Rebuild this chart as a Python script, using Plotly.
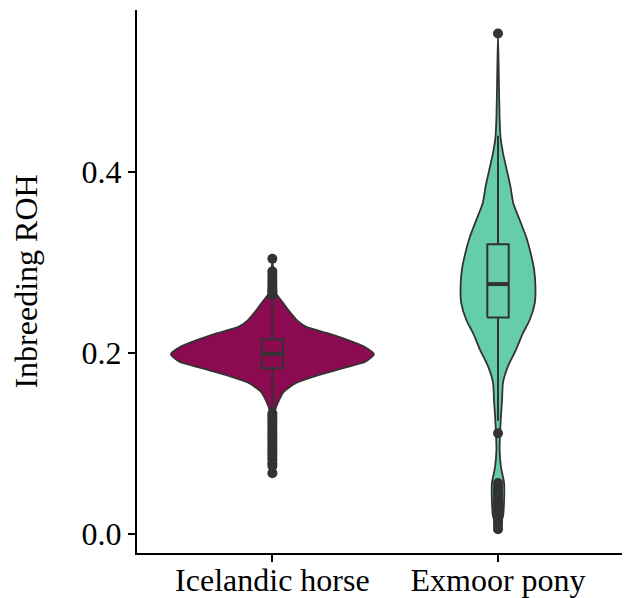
import plotly.graph_objects as go

# ---------------- data ----------------
categories = ["Icelandic horse", "Exmoor pony"]
positions = [1, 2]
fill_colors = ["#8B0A50", "#66CDAA"]

# violin outlines: y values and half-widths (category units)
ice_violin_y = [0.303, 0.290, 0.275, 0.266, 0.257, 0.2475, 0.2365, 0.229, 0.2217, 0.2144,
                0.207, 0.1985, 0.1904, 0.183, 0.1757, 0.1665, 0.1573, 0.148, 0.137, 0.120,
                0.100, 0.085, 0.067]
ice_violin_hw = [0.0, 0.004, 0.008, 0.015, 0.042, 0.070, 0.107, 0.148, 0.244, 0.332,
                 0.406, 0.450, 0.414, 0.314, 0.207, 0.103, 0.052, 0.030, 0.013, 0.007,
                 0.005, 0.004, 0.0]

exm_violin_y = [0.553, 0.500, 0.460, 0.439, 0.421, 0.402, 0.384, 0.365, 0.347, 0.328,
                0.310, 0.292, 0.273, 0.255, 0.236, 0.222, 0.203, 0.185, 0.167, 0.148,
                0.130, 0.111, 0.093, 0.074, 0.056, 0.037, 0.019, 0.005]
exm_violin_hw = [0.0, 0.004, 0.007, 0.011, 0.022, 0.039, 0.055, 0.068, 0.096, 0.125,
                 0.145, 0.160, 0.166, 0.163, 0.140, 0.111, 0.079, 0.044, 0.022, 0.018,
                 0.013, 0.009, 0.007, 0.013, 0.027, 0.027, 0.022, 0.0]

# boxplot statistics
box_q1 = [0.183, 0.239]
box_median = [0.199, 0.276]
box_q3 = [0.215, 0.320]
box_lower = [0.135, 0.125]
box_upper = [0.263, 0.440]
box_width = 0.095

# outliers
ice_outliers = [0.304, 0.290, 0.286, 0.282, 0.279, 0.276, 0.273, 0.270, 0.268, 0.266, 0.264,
                0.133, 0.130, 0.127, 0.124, 0.121, 0.118, 0.115, 0.112, 0.109, 0.106, 0.103,
                0.100, 0.097, 0.094, 0.091, 0.088, 0.085, 0.082, 0.078, 0.075, 0.067]
exm_outliers = [0.553, 0.111, 0.056, 0.052, 0.048, 0.045, 0.042, 0.039, 0.036, 0.033, 0.030,
                0.027, 0.024, 0.021, 0.018, 0.015, 0.012, 0.009, 0.005]

y_ticks = [0.0, 0.2, 0.4]
y_title = "Inbreeding ROH"

# ---------------- figure ----------------
ink = "#333333"
font_family = "Liberation Serif, Times New Roman, serif"
fig = go.Figure()

violins = [(ice_violin_y, ice_violin_hw), (exm_violin_y, exm_violin_hw)]
outliers = [ice_outliers, exm_outliers]

for i, pos in enumerate(positions):
    vy, vhw = violins[i]
    xs = [pos - w for w in vhw] + [pos + w for w in reversed(vhw)]
    ys = list(vy) + list(reversed(vy))
    fig.add_trace(go.Scatter(
        x=xs, y=ys, mode="lines", fill="toself", fillcolor=fill_colors[i],
        line=dict(color=ink, width=1.8, shape="spline", smoothing=0.6),
        hoverinfo="skip", showlegend=False))

half = box_width / 2
for i, pos in enumerate(positions):
    # whiskers
    fig.add_trace(go.Scatter(
        x=[pos, pos, None, pos, pos],
        y=[box_lower[i], box_q1[i], None, box_q3[i], box_upper[i]],
        mode="lines", line=dict(color=ink, width=2),
        showlegend=False, hoverinfo="skip"))
    # box
    fig.add_trace(go.Scatter(
        x=[pos - half, pos + half, pos + half, pos - half, pos - half],
        y=[box_q1[i], box_q1[i], box_q3[i], box_q3[i], box_q1[i]],
        mode="lines", fill="toself", fillcolor=fill_colors[i],
        line=dict(color=ink, width=2), showlegend=False, hoverinfo="skip"))
    # median
    fig.add_trace(go.Scatter(
        x=[pos - half, pos + half],
        y=[box_median[i], box_median[i]], mode="lines",
        line=dict(color=ink, width=4), showlegend=False, hoverinfo="skip"))
    # outliers
    fig.add_trace(go.Scatter(
        x=[pos] * len(outliers[i]), y=outliers[i], mode="markers",
        marker=dict(color=ink, size=10), showlegend=False))

# the page body adds an 8px offset; shrink the figure so it fits the window
fig.update_layout(
    width=622, height=590,
    margin=dict(l=129, r=0, t=2, b=45),
    paper_bgcolor="white", plot_bgcolor="white",
    font=dict(family=font_family, size=32, color="black"),
)
fig.update_xaxes(
    range=[0.4, 2.585], tickvals=positions, ticktext=categories,
    showline=True, linecolor="black", linewidth=2,
    ticks="outside", ticklen=7, tickwidth=2, tickcolor="black",
    ticklabelstandoff=-9, automargin=False,
    showgrid=False, zeroline=False, tickfont=dict(size=32, color="black"))
fig.update_yaxes(
    range=[-0.0213, 0.579], tickvals=y_ticks, tickformat=".1f",
    showline=True, linecolor="black", linewidth=2,
    ticks="outside", ticklen=7, tickwidth=2, tickcolor="black",
    automargin=False,
    showgrid=False, zeroline=False, tickfont=dict(size=32, color="black"),
    title=dict(text=y_title, font=dict(size=32, color="black"), standoff=40))

fig.write_html("out.html")
